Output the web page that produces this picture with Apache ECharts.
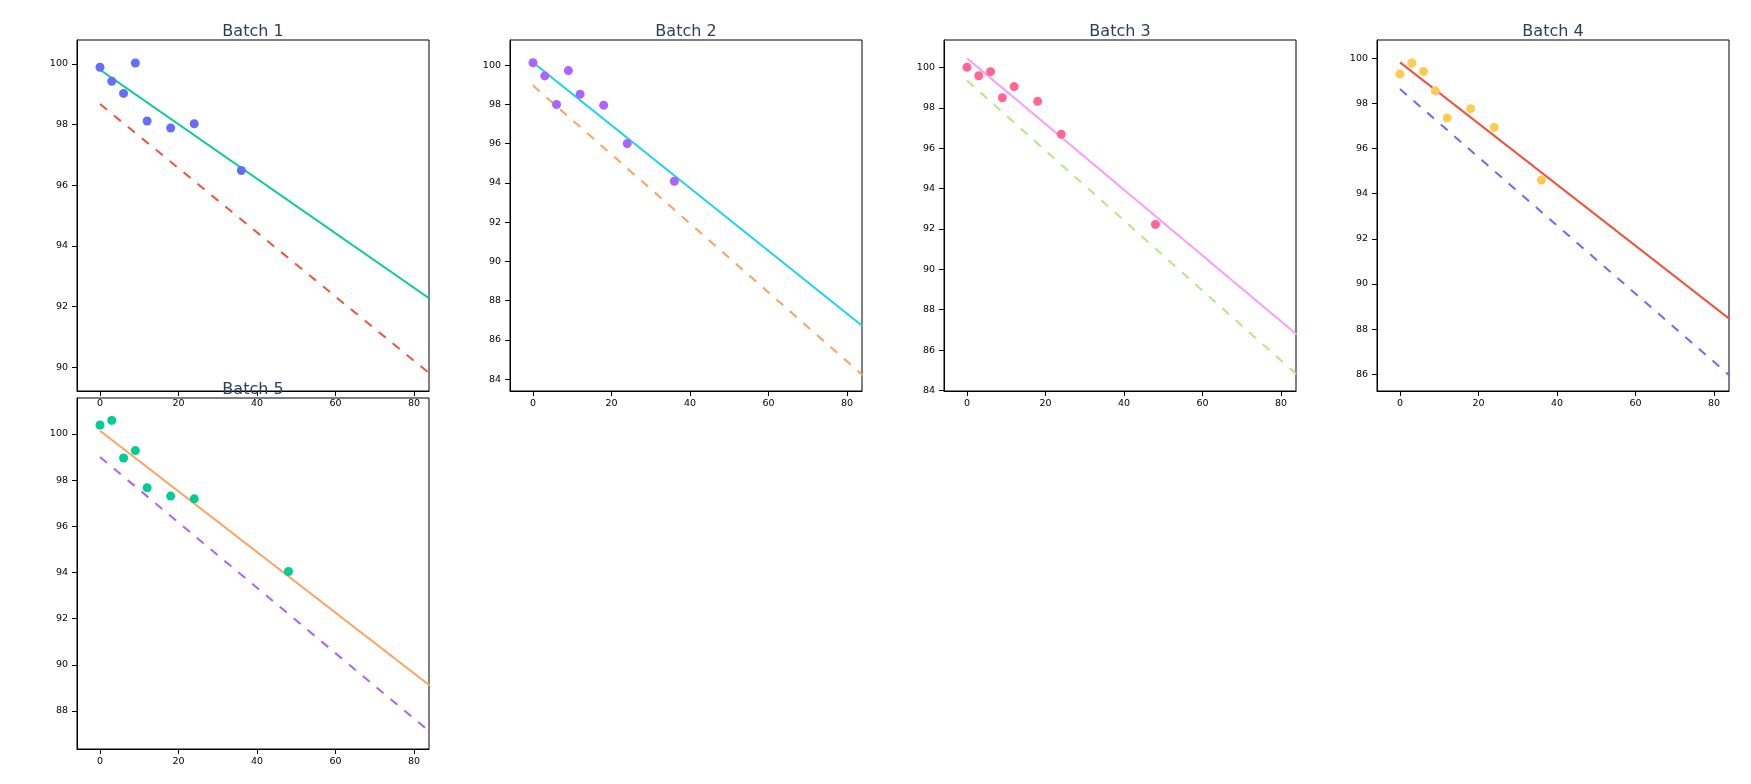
<!DOCTYPE html>
<html>
<head>
<meta charset="utf-8">
<script src="https://cdn.jsdelivr.net/npm/echarts@6/dist/echarts.min.js"></script>
<style>
  html, body { margin: 0; padding: 0; background: #fff; }
  #chart { width: 1751px; height: 784px; }
</style>
</head>
<body>
<div id="chart"></div>
<script>
// ---- data ----
const batchNames = ['Batch 1', 'Batch 2', 'Batch 3', 'Batch 4', 'Batch 5'];
const months1 = [0, 3, 6, 9, 12, 18, 24, 36];
const months2 = [0, 3, 6, 9, 12, 18, 24, 36];
const months3 = [0, 3, 6, 9, 12, 18, 24, 48];
const months4 = [0, 3, 6, 9, 12, 18, 24, 36];
const months5 = [0, 3, 6, 9, 12, 18, 24, 48];
const values1 = [99.89, 99.43, 99.03, 100.03, 98.12, 97.89, 98.03, 96.49];
const values2 = [100.12, 99.45, 97.99, 99.72, 98.52, 97.96, 96.00, 94.08];
const values3 = [100.02, 99.60, 99.80, 98.51, 99.06, 98.33, 96.70, 92.23];
const values4 = [99.29, 99.78, 99.41, 98.55, 97.35, 97.76, 96.93, 94.60];
const values5 = [100.39, 100.59, 98.96, 99.28, 97.67, 97.31, 97.19, 94.04];
const lineX = [0, 84];
const fit1 = [99.81, 92.26], lower1 = [98.68, 89.79];
const fit2 = [100.13, 86.69], lower2 = [98.96, 84.19];
const fit3 = [100.46, 86.77], lower3 = [99.36, 84.78];
const fit4 = [99.81, 88.44], lower4 = [98.63, 85.94];
const fit5 = [100.14, 89.10], lower5 = [99.00, 87.10];
const xTicks = [0, 20, 40, 60, 80];
const xRange = [-5.86, 83.8];
const yTicks1 = [90, 92, 94, 96, 98, 100];
const yTicks2 = [84, 86, 88, 90, 92, 94, 96, 98, 100];
const yTicks3 = [84, 86, 88, 90, 92, 94, 96, 98, 100];
const yTicks4 = [86, 88, 90, 92, 94, 96, 98, 100];
const yTicks5 = [88, 90, 92, 94, 96, 98, 100];
const yRange1 = [89.22, 100.79];
const yRange2 = [83.39, 101.28];
const yRange3 = [83.97, 101.37];
const yRange4 = [85.26, 100.80];
const yRange5 = [86.35, 101.56];
const markerColors = ['#636EFA', '#AB63FA', '#FF6692', '#FECB52', '#00CC96'];
const fitColors = ['#00CC96', '#19D3F3', '#FF97FF', '#EF553B', '#FFA15A'];
const lowerColors = ['#EF553B', '#FFA15A', '#B6E880', '#636EFA', '#AB63FA'];

const monthsAll = [months1, months2, months3, months4, months5];
const valuesAll = [values1, values2, values3, values4, values5];
const fitAll = [fit1, fit2, fit3, fit4, fit5];
const lowerAll = [lower1, lower2, lower3, lower4, lower5];
const yTicksAll = [yTicks1, yTicks2, yTicks3, yTicks4, yTicks5];
const yRangeAll = [yRange1, yRange2, yRange3, yRange4, yRange5];

// ---- layout ----
const gridPos = [
  { left: 77, top: 40 },
  { left: 510, top: 40 },
  { left: 944, top: 40 },
  { left: 1377, top: 40 },
  { left: 77, top: 398 }
];
const GW = 352, GH = 351;
const FONT = 'DejaVu Sans, Verdana, sans-serif';

const grids = [], xAxes = [], yAxes = [], series = [], titles = [];
for (let i = 0; i < 5; i++) {
  grids.push({
    left: gridPos[i].left, top: gridPos[i].top, width: GW, height: GH,
    show: true, borderColor: '#000', borderWidth: 1, backgroundColor: 'transparent'
  });
  titles.push({
    text: batchNames[i],
    left: gridPos[i].left + GW / 2,
    top: gridPos[i].top - 16.5,
    padding: 0,
    textAlign: 'center',
    textStyle: { fontFamily: FONT, fontSize: 16, fontWeight: 'normal', color: '#2a3f5f' }
  });
  xAxes.push({
    type: 'value', gridIndex: i, min: xRange[0], max: xRange[1],
    axisLine: { show: true, onZero: false, lineStyle: { color: '#000', width: 1 } },
    axisTick: { show: true, length: 5, lineStyle: { color: '#000' }, customValues: xTicks },
    axisLabel: { fontFamily: FONT, fontSize: 9.5, color: '#000', margin: 8, customValues: xTicks },
    splitLine: { show: false }
  });
  yAxes.push({
    type: 'value', gridIndex: i, min: yRangeAll[i][0], max: yRangeAll[i][1],
    axisLine: { show: true, onZero: false, lineStyle: { color: '#000', width: 1 } },
    axisTick: { show: true, length: 5, lineStyle: { color: '#000' }, customValues: yTicksAll[i] },
    axisLabel: { fontFamily: FONT, fontSize: 9.5, color: '#000', margin: 9, customValues: yTicksAll[i] },
    splitLine: { show: false }
  });
  series.push({
    type: 'line', xAxisIndex: i, yAxisIndex: i, name: 'lower ' + i,
    data: lineX.map((x, k) => [x, lowerAll[i][k]]),
    showSymbol: false, symbol: 'none', clip: true, z: 2,
    lineStyle: { color: lowerColors[i], width: 2, type: [9, 9] },
    silent: true
  });
  series.push({
    type: 'line', xAxisIndex: i, yAxisIndex: i, name: 'fit ' + i,
    data: lineX.map((x, k) => [x, fitAll[i][k]]),
    showSymbol: false, symbol: 'none', clip: true, z: 3,
    lineStyle: { color: fitColors[i], width: 2 },
    silent: true
  });
  series.push({
    type: 'scatter', xAxisIndex: i, yAxisIndex: i, name: 'data ' + i,
    data: monthsAll[i].map((x, k) => [x, valuesAll[i][k]]),
    symbol: 'circle', symbolSize: 9, z: 4,
    itemStyle: { color: markerColors[i], opacity: 1 },
    silent: true
  });
}

const chart = echarts.init(document.getElementById('chart'), null, { renderer: 'canvas' });
chart.setOption({
  animation: false,
  backgroundColor: '#fff',
  title: titles,
  grid: grids,
  xAxis: xAxes,
  yAxis: yAxes,
  series: series
});
</script>
</body>
</html>
